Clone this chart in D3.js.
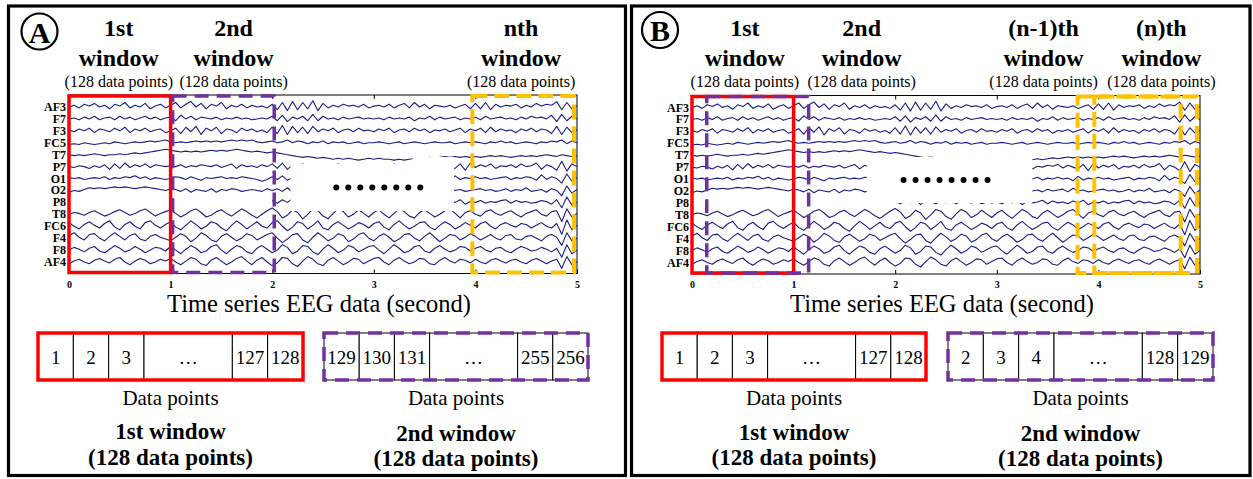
<!DOCTYPE html>
<html>
<head>
<meta charset="utf-8">
<script src="https://cdn.jsdelivr.net/npm/d3@7"></script>
<style>
  body { margin: 0; background: #fff; }
  svg { display: block; }
  text { font-family: "Liberation Serif", "Times New Roman", serif; fill: #000; }
</style>
</head>
<body>
<svg id="fig" width="1253" height="479"></svg>
<script>
// ---- EEG channels and time axis ----
const channels = ["AF3","F7","F3","FC5","T7","P7","O1","O2","P8","T8","FC6","F4","F8","AF4"];
const secondTicks = [0, 1, 2, 3, 4, 5];
const sampleRate = 20; // samples per second in the arrays below

// ---- channel traces (relative amplitude, 5 s each) ----
const af3 = [0,2,-1,3,1,4,0,2,-2,3,1,5,-1,2,0,4,-2,1,3,-1,
  2,5,-1,3,6,0,4,-2,3,1,5,-2,2,0,3,-1,2,0,1,-1,
  3,-3,5,-4,6,-3,5,-2,7,-4,4,-1,2,0,3,1,2,0,3,-1,
  1,2,0,3,-1,2,4,-1,5,0,3,-2,2,1,0,2,-1,1,3,-2,
  4,-2,5,-3,3,0,2,1,3,-1,2,0,4,1,3,2,6,-3,5,-2,1];
const f7 = [0,1,-1,2,0,3,-1,1,2,-1,3,0,2,-1,1,3,0,2,-1,1,
  2,-2,4,0,3,-1,2,1,0,2,-1,1,0,2,0,1,-1,0,1,0,
  3,-2,4,-3,2,0,3,-2,5,-2,3,0,1,-1,2,0,1,2,0,1,
  0,1,-1,2,0,1,0,2,-2,1,0,3,-1,2,0,1,2,-1,1,0,
  2,-1,3,0,1,2,0,1,-1,2,0,3,1,2,0,4,-3,5,-2,3,0];
const f3 = [1,-1,2,0,3,-2,2,1,-1,3,0,4,-2,2,0,3,-1,1,2,-2,
  0,3,-3,4,-1,5,-4,3,0,4,-3,2,1,-2,3,0,2,-1,1,-2,
  4,-3,6,-4,5,-2,4,-3,5,-1,2,0,3,-2,1,2,-1,3,0,1,
  -1,2,0,3,-2,1,2,-1,3,0,2,-2,1,0,2,-1,1,3,-2,2,
  0,3,-2,4,-1,2,0,1,-2,2,0,3,-1,2,1,-3,5,-4,4,-2,1];
const fc5 = [-2,-1,-2,0,-1,-2,-1,0,-1,1,0,-1,0,1,0,1,2,1,2,3,
  1,0,1,0,1,2,1,2,1,2,1,2,3,2,3,2,3,1,0,1,
  2,0,1,3,0,2,1,-1,1,0,2,-1,1,0,1,-1,0,1,-1,0,
  0,1,0,-1,0,1,-1,0,1,0,-1,0,1,0,0,1,-1,0,1,0,
  1,0,-1,1,0,2,0,1,-1,0,1,0,-1,1,0,2,1,3,-1,2,0];
const t7 = [0,-1,0,-1,0,1,0,-1,0,0,1,0,1,2,1,2,3,4,5,6,
  5,4,3,4,3,4,3,4,5,4,5,4,5,6,5,4,3,4,3,2,
  3,2,1,0,-1,-2,-3,-2,-3,-4,-3,-4,-5,-4,-5,-4,-5,-6,-5,-4,
  -5,-4,-5,-5,-6,-5,-6,-5,-4,-5,-4,-3,-4,-3,-2,-3,-2,-3,-2,-3,
  -2,-3,-2,-1,-2,-1,-2,-3,-2,-1,-2,-1,-2,-1,0,-1,-2,0,-1,-2,-1];
const p7 = [0,-1,1,0,-2,1,-1,2,-3,3,-2,4,-1,2,0,3,-1,2,1,0,
  1,0,2,-1,1,0,2,1,0,2,-1,1,3,-2,2,0,1,-1,2,0,
  3,-2,4,-3,2,0,3,-1,2,1,-2,2,0,3,-1,2,0,1,-1,2,
  0,1,2,-1,3,0,2,-2,1,0,2,1,3,-1,2,0,-2,3,-4,4,
  -1,2,0,3,-2,1,0,2,-1,3,0,1,4,-3,2,0,-4,6,-5,3,0];
const o1 = [1,0,1,-1,0,1,0,2,-1,1,0,2,1,3,0,2,-1,1,0,-1,
  0,2,1,-1,2,0,-2,1,0,1,2,0,1,0,2,1,0,-1,-3,-1,
  2,-1,3,-2,1,0,2,-1,0,1,-1,2,0,1,0,2,-1,1,0,1,
  0,1,-1,2,0,1,-1,0,2,-1,1,0,2,0,1,-2,3,-1,1,0,
  2,0,1,-1,0,1,2,-1,1,0,2,1,-2,4,-1,2,0,-5,5,-3,1];
const o2 = [-2,0,-1,1,3,2,3,2,3,4,3,4,3,2,3,4,3,2,1,0,
  2,1,-1,2,-2,1,0,-1,2,-2,1,0,2,1,-1,0,1,0,-1,2,
  0,2,-1,3,-2,2,0,1,-1,2,0,1,3,-1,2,0,1,-1,0,1,
  2,0,1,-2,3,-1,2,0,1,-1,2,0,1,2,-1,3,0,1,-1,0,
  1,2,0,1,-1,0,2,-1,1,0,3,-1,0,1,-2,2,0,-6,5,-3,1];
const p8 = [null,null,null,null,null,null,null,null,null,null,null,null,null,null,null,null,null,null,null,null,
  null,null,null,null,null,null,null,null,null,null,null,null,null,null,null,null,null,null,null,null,
  2,-1,3,0,4,-2,3,1,-1,2,0,3,-1,2,1,0,2,-1,1,0,
  1,-1,2,0,3,-2,2,0,1,3,-1,2,0,1,-1,2,0,3,-2,1,
  0,2,-1,1,0,2,3,-1,2,0,1,-1,0,2,1,-2,3,-6,6,-3,0];
const t8 = [0,2,1,-1,2,4,1,-2,0,3,5,2,-1,1,4,6,2,-2,1,3,
  5,1,-3,0,4,6,2,-3,-1,3,5,1,-2,2,6,3,-1,-4,0,4,
  7,3,-4,-1,5,2,-5,0,6,4,-2,-5,1,6,3,-3,0,5,1,-3,
  2,5,0,-4,1,6,3,-2,-4,2,5,1,-3,0,4,6,1,-4,2,4,
  0,-2,3,5,1,-1,2,4,0,-3,1,3,5,0,-2,3,4,-8,6,-3,1];
const fc6 = [4,0,-3,2,5,1,-2,3,6,-1,-4,2,5,0,-3,4,6,1,-2,2,
  5,-1,-4,1,6,2,-3,0,5,3,-2,-5,1,6,2,-3,1,5,0,-2,
  4,6,0,-5,-1,5,3,-3,1,6,-2,-4,2,5,1,-3,0,4,2,-2,
  3,5,-1,-4,2,6,1,-3,0,4,5,-1,-4,1,5,2,-3,0,4,1,
  -2,3,5,0,-3,2,4,1,-1,3,2,-2,1,4,0,-2,3,-9,7,-4,1];
const f4 = [3,6,1,-2,4,5,0,-3,2,6,2,-2,3,5,-1,-3,2,4,1,-1,
  -3,1,5,2,-4,0,6,3,-2,-4,2,5,1,-3,0,5,3,-2,1,4,
  6,0,-5,-1,4,5,-2,-5,1,6,2,-3,0,5,3,-4,-1,4,6,0,
  -3,2,5,1,-4,-1,4,5,0,-3,2,6,1,-4,0,4,3,-2,1,5,
  2,-2,1,4,0,-2,3,4,-1,-2,2,3,0,-3,2,4,1,-8,6,-3,0];
const f8 = [0,3,1,-2,2,4,-1,-3,1,5,2,-2,0,4,1,-3,0,3,2,-1,
  4,0,-4,1,5,2,-3,-1,4,6,0,-4,1,5,3,-2,-4,2,5,1,
  -3,0,6,3,-4,-1,5,4,-2,-5,1,6,2,-3,0,5,3,-2,1,4,
  5,0,-4,1,6,2,-3,-1,4,5,-1,-3,2,5,1,-2,0,4,3,-1,
  2,4,0,-2,2,3,-1,-3,1,4,2,-1,0,3,1,-2,2,-8,6,-4,0];
const af4 = [-2,1,3,0,-2,2,4,1,-1,3,5,0,-3,1,4,2,-2,0,3,1,
  4,0,-3,1,5,3,-2,-4,2,5,1,-3,0,4,6,1,-3,2,5,0,
  -4,-1,5,4,-2,-5,1,6,3,-2,-4,2,5,1,-3,0,4,3,-2,1,
  4,5,0,-3,2,5,1,-2,0,4,3,-2,-3,2,5,1,-1,3,2,-1,
  3,0,-2,2,4,1,-1,2,3,0,-2,2,4,1,-2,1,3,-7,6,-3,0];
const traces = [af3, f7, f3, fc5, t7, p7, o1, o2, p8, t8, fc6, f4, f8, af4];

// ---- windows, panel A (non-overlapping) ----
const winLabelsA = ["1st", "2nd", "nth"];
const winKindA   = ["first", "second", "last"];
const winStartA  = [0, 1.02, 3.97];
const winEndA    = [1, 2.02, 4.97];
const headerAtA  = [0.49, 1.62, 4.45];
const gapA       = [2.18, 3.79];

// ---- windows, panel B (sliding by one point) ----
const winLabelsB = ["1st", "2nd", "(n-1)th", "(n)th"];
const winKindB   = ["first", "second", "last", "last"];
const winStartB  = [0, 0.145, 3.795, 3.96];
const winEndB    = [1, 1.148, 4.81, 4.97];
const headerAtB  = [0.52, 1.67, 3.46, 4.62];
const gapB       = [1.72, 3.35];

// ---- data-point cells under each panel ----
const cellsA1 = ["1", "2", "3", "\u2026", "127", "128"];
const cellsA2 = ["129", "130", "131", "\u2026", "255", "256"];
const cellsB1 = ["1", "2", "3", "\u2026", "127", "128"];
const cellsB2 = ["2", "3", "4", "\u2026", "128", "129"];
const cellWeights = [1, 1, 1, 2.5, 1, 1];

// ---------------------------------------------------------------
const svg = d3.select("#fig");
svg.append("rect").attr("width", 1253).attr("height", 479).attr("fill", "#fff");

const WIN_STYLE = {
  first:  { stroke: "#ff0000", dash: null,   width: 3.5 },
  second: { stroke: "#7030a0", dash: "14 8", width: 3.5 },
  last:   { stroke: "#ffc000", dash: "15 7", width: 4 }
};
const TRACE_COLOR = "#1c1c84";

const panels = [
  { letter: "A", frame: [8.5, 6, 625.5, 475.5], badge: [39.5, 31.5],
    xRange: [69, 577], top: 95, bottom: 273.5,
    labels: winLabelsA, kinds: winKindA, starts: winStartA, ends: winEndA, headers: headerAtA,
    gap: gapA, gapY: [164, 211], notch: [3.38, 3.79, 157, 166], dotShift: 6,
    boxes: [ { x: 38, w: 265, cells: cellsA1, kind: "first",  title: "1st window", dy: 0 },
             { x: 324, w: 264, cells: cellsA2, kind: "second", title: "2nd window", dy: 1.5 } ] },
  { letter: "B", frame: [631.5, 6, 1250, 475.5], badge: [660, 30],
    xRange: [692, 1200], top: 95.5, bottom: 274,
    labels: winLabelsB, kinds: winKindB, starts: winStartB, ends: winEndB, headers: headerAtB,
    gap: gapB, gapY: [157, 203], notch: null, dotShift: -4,
    boxes: [ { x: 662, w: 264, cells: cellsB1, kind: "first",  title: "1st window", dy: 0.5 },
             { x: 948, w: 265, cells: cellsB2, kind: "second", title: "2nd window", dy: 1.5 } ] }
];

const amp = d3.scaleLinear().domain([-10, 10]).range([9, -9]);

function styleWin(sel, kind) {
  const s = WIN_STYLE[kind];
  sel.attr("fill", "none").attr("stroke", s.stroke).attr("stroke-width", s.width);
  if (s.dash) sel.attr("stroke-dasharray", s.dash);
  return sel;
}

panels.forEach(p => {
  const g = svg.append("g");

  // outer panel frame
  g.append("rect")
    .attr("x", p.frame[0]).attr("y", p.frame[1])
    .attr("width", p.frame[2] - p.frame[0]).attr("height", p.frame[3] - p.frame[1])
    .attr("fill", "none").attr("stroke", "#000").attr("stroke-width", 3.2);

  // circled panel letter
  g.append("circle").attr("cx", p.badge[0]).attr("cy", p.badge[1]).attr("r", 18)
    .attr("fill", "#fff").attr("stroke", "#000").attr("stroke-width", 2.2);
  g.append("text").attr("x", p.badge[0]).attr("y", p.badge[1] + 11)
    .attr("text-anchor", "middle").attr("font-size", 30).attr("font-weight", "bold")
    .text(p.letter);

  const x = d3.scaleLinear().domain([0, 5]).range(p.xRange);
  const row = d3.scalePoint().domain(channels).range([p.top + 12, p.bottom - 11.5]);

  // plot box
  g.append("rect")
    .attr("x", p.xRange[0]).attr("y", p.top)
    .attr("width", p.xRange[1] - p.xRange[0]).attr("height", p.bottom - p.top)
    .attr("fill", "none").attr("stroke", "#000").attr("stroke-width", 1);

  const axB = g.append("g").attr("transform", `translate(0,${p.bottom})`)
    .call(d3.axisBottom(x).tickValues(secondTicks).tickSize(-4).tickPadding(7).tickFormat(d3.format("d")));
  axB.select(".domain").remove();
  axB.selectAll("text").attr("font-size", 10).attr("font-weight", "bold")
    .attr("font-family", "Liberation Serif, serif");
  const axT = g.append("g").attr("transform", `translate(0,${p.top})`)
    .call(d3.axisTop(x).tickValues([1, 2, 3, 4]).tickSize(-4).tickFormat(""));
  axT.select(".domain").remove();

  // EEG traces
  traces.forEach((vals, ci) => {
    const base = row(channels[ci]);
    const line = d3.line()
      .defined(d => d != null)
      .x((d, i) => x(i / sampleRate))
      .y(d => base + amp(d));
    g.append("path").attr("d", line(vals))
      .attr("fill", "none").attr("stroke", TRACE_COLOR).attr("stroke-width", 1.1)
      .attr("stroke-linejoin", "round");
  });

  // blank stretch standing for the omitted windows
  g.append("rect")
    .attr("x", x(p.gap[0])).attr("y", p.gapY[0])
    .attr("width", x(p.gap[1]) - x(p.gap[0])).attr("height", p.gapY[1] - p.gapY[0])
    .attr("fill", "#fff");
  if (p.notch) {
    g.append("rect")
      .attr("x", x(p.notch[0])).attr("y", p.notch[2])
      .attr("width", x(p.notch[1]) - x(p.notch[0])).attr("height", p.notch[3] - p.notch[2])
      .attr("fill", "#fff");
  }
  const gapMid = (x(p.gap[0]) + x(p.gap[1])) / 2 + p.dotShift;
  const dotY = (p.gapY[0] + p.gapY[1]) / 2;
  g.selectAll(null).data(d3.range(8)).enter().append("circle")
    .attr("cx", d => gapMid - 42 + d * 12).attr("cy", dotY).attr("r", 3)
    .attr("fill", "#000");

  // window outlines
  p.starts.forEach((s, i) => {
    styleWin(g.append("rect")
      .attr("x", x(s)).attr("y", p.top + 1)
      .attr("width", x(p.ends[i]) - x(s)).attr("height", p.bottom - p.top - 2), p.kinds[i]);
  });

  // channel names
  g.selectAll(null).data(channels).enter().append("text")
    .attr("x", p.xRange[0] - 3).attr("y", d => row(d) + 4)
    .attr("text-anchor", "end").attr("font-size", 12).attr("font-weight", "bold")
    .text(d => d);

  // window headers
  p.labels.forEach((lab, i) => {
    const cx = x(p.headers[i]);
    g.append("text").attr("x", cx).attr("y", 36).attr("text-anchor", "middle")
      .attr("font-size", 24).attr("font-weight", "bold").text(lab);
    g.append("text").attr("x", cx).attr("y", 66).attr("text-anchor", "middle")
      .attr("font-size", 24).attr("font-weight", "bold").text("window");
    g.append("text").attr("x", cx).attr("y", 87).attr("text-anchor", "middle")
      .attr("font-size", 16).text("(128 data points)");
  });

  // x-axis title
  g.append("text").attr("x", (p.xRange[0] + p.xRange[1]) / 2 - 4).attr("y", 312)
    .attr("text-anchor", "middle").attr("font-size", 24.5)
    .text("Time series EEG data (second)");

  // data-point strips
  p.boxes.forEach(b => {
    const total = d3.sum(cellWeights);
    const cx = d3.scaleLinear().domain([0, total]).range([b.x, b.x + b.w]);
    const cum = d3.cumsum([0].concat(cellWeights));
    const top = 333, h = 47;
    b.cells.forEach((c, i) => {
      g.append("rect").attr("x", cx(cum[i])).attr("y", top)
        .attr("width", cx(cum[i + 1]) - cx(cum[i])).attr("height", h)
        .attr("fill", "#fff").attr("stroke", "#000").attr("stroke-width", 1);
      g.append("text").attr("x", (cx(cum[i]) + cx(cum[i + 1])) / 2).attr("y", top + 31)
        .attr("text-anchor", "middle").attr("font-size", 19).text(c);
    });
    styleWin(g.append("rect").attr("x", b.x).attr("y", top)
      .attr("width", b.w).attr("height", h), b.kind);
    const mid = b.x + b.w / 2;
    g.append("text").attr("x", mid).attr("y", 405).attr("text-anchor", "middle")
      .attr("font-size", 21).text("Data points");
    g.append("text").attr("x", mid).attr("y", 439 + b.dy).attr("text-anchor", "middle")
      .attr("font-size", 23).attr("font-weight", "bold").text(b.title);
    g.append("text").attr("x", mid).attr("y", 465 + b.dy * 0.6).attr("text-anchor", "middle")
      .attr("font-size", 23).attr("font-weight", "bold").text("(128 data points)");
  });
});
</script>
</body>
</html>
